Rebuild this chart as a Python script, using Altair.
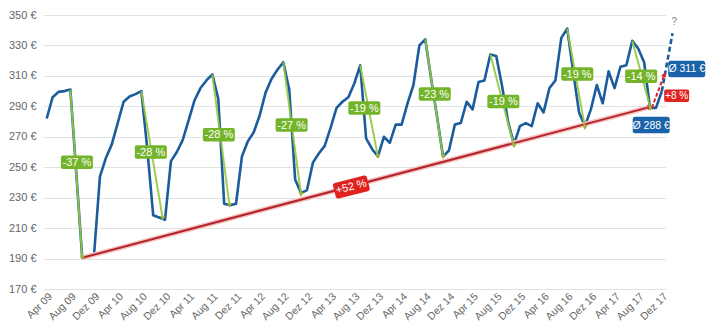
import altair as alt
import pandas as pd

# ---------------- data ----------------
price = [282, 296, 299.5, 300, 301, 246, 190.5, 191, 192.5, 244,
         256, 265, 279, 293, 296.5, 298, 300, 262, 218.5, 217,
         215.5, 254, 260, 268, 281, 294, 302, 307, 311, 295,
         226, 225, 226, 257, 267, 273, 284, 299, 308, 314,
         319, 301, 242, 233, 235, 253, 259, 264, 276, 289,
         293, 296, 305, 317, 269, 262, 257, 270, 266, 278,
         278, 292, 304, 330, 334, 308, 283, 257, 261, 278,
         279, 293, 288, 306, 307, 324, 323, 303, 280, 265,
         277, 279, 277, 292, 286, 302, 307, 335, 341, 313,
         286, 277, 288, 304, 292, 313, 302, 316, 317, 333,
         328, 319, 289, 289, 300]
months = list(range(len(price)))  # 0 = Apr 09

tick_labels = ["Apr 09", "Aug 09", "Dez 09", "Apr 10", "Aug 10", "Dez 10",
               "Apr 11", "Aug 11", "Dez 11", "Apr 12", "Aug 12", "Dez 12",
               "Apr 13", "Aug 13", "Dez 13", "Apr 14", "Aug 14", "Dez 14",
               "Apr 15", "Aug 15", "Dez 15", "Apr 16", "Aug 16", "Dez 16",
               "Apr 17", "Aug 17", "Dez 17"]
y_ticks = [170, 190, 210, 230, 250, 270, 290, 310, 330, 350]

forecast_m = [104, 105.8]
forecast_v = [300, 338]

drop_start_m = [4, 16, 28, 40, 53, 64, 75, 88, 99]
drop_start_v = [301, 300, 311, 319, 317, 334, 324, 341, 333]
drop_end_m = [6, 19.6, 30.9, 43, 56, 67, 79, 91, 102.1]
drop_end_v = [190.5, 216.5, 225, 232, 257, 257, 264, 276, 288.5]

green_label_m = [5.1, 17.6, 29.1, 41.4, 53.7, 65.6, 77.2, 89.7, 100.5]
green_label_v = [253.2, 260, 271.4, 277.7, 288.9, 298.1, 293.2, 311.2, 309.7]
green_label_text = ["-37 %", "-28 %", "-28 %", "-27 %", "-19 %", "-23 %", "-19 %", "-19 %", "-14 %"]

trend_m = [6, 101.9]
trend_v = [190.5, 289.5]
trend_label = ["+52 %"]
trend_label_m = [51.5]
trend_label_v = [237]

next_m = [102.3, 104.4]
next_v = [289, 310.5]
next_label = ["+8 %"]
next_label_m = [106.5]
next_label_v = [297]

avg_label = ["Ø 311 €", "Ø 288 €"]
avg_label_m = [108.2, 102.2]
avg_label_v = [314.6, 277.7]

question_m = [106.1]
question_v = [345.6]

# ---------------- styles ----------------
BLUE = "#1b5c9c"
BLUE_BOX = "#1b63a8"
GREEN_BOX = "#74b42a"
GREEN_LINE = "#95c83f"
RED_BOX = "#e1231f"
RED_LINE = "#b3242a"
FONT = "Liberation Sans"


def rrect(w, h, r):
    hh = h / w
    rr = 2 * r / w
    return (f"M{-1+rr},{-hh} L{1-rr},{-hh} Q1,{-hh} 1,{-hh+rr} L1,{hh-rr} "
            f"Q1,{hh} {1-rr},{hh} L{-1+rr},{hh} Q-1,{hh} -1,{hh-rr} "
            f"L-1,{-hh+rr} Q-1,{-hh} {-1+rr},{-hh} Z")


x_scale = alt.Scale(domain=[-0.63, 104.7], nice=False, zero=False)
y_scale = alt.Scale(domain=[170, 350], nice=False, zero=False)
label_array = "[" + ",".join(f"'{l}'" for l in tick_labels) + "]"

x_axis = alt.Axis(values=list(range(0, 105, 4)), tickCount=60,
                  labelExpr=label_array + "[round(datum.value/4)]",
                  labelAngle=-45, grid=False, ticks=False, domain=False,
                  title=None, labelPadding=2, labelFont=FONT, labelFontSize=10.5,
                  labelColor="#666666", labelOverlap=False, labelFlush=False,
                  labelBound=False)
y_axis = alt.Axis(values=y_ticks, tickCount=30, labelExpr="datum.value + ' €'", grid=True,
                  gridColor="#e2e2e2", ticks=False, domain=False, title=None,
                  labelPadding=7, labelFont=FONT, labelFontSize=11,
                  labelColor="#666666", labelOverlap=False, labelFlush=False)


def X(field="m:Q", ax=alt.Undefined):
    return alt.X(field, scale=x_scale, axis=ax)


def Y(field="v:Q", ax=alt.Undefined):
    return alt.Y(field, scale=y_scale, axis=ax)


df_price = pd.DataFrame({"m": months, "v": price})
df_fc = pd.DataFrame({"m": forecast_m, "v": forecast_v})
df_drop = pd.DataFrame({"m": drop_start_m, "v": drop_start_v,
                        "m2": drop_end_m, "v2": drop_end_v})
df_drop_end = pd.DataFrame({"m": drop_end_m, "v": drop_end_v})
df_glab = pd.DataFrame({"m": green_label_m, "v": green_label_v, "t": green_label_text})
df_trend = pd.DataFrame({"m": [trend_m[0]], "v": [trend_v[0]],
                         "m2": [trend_m[1]], "v2": [trend_v[1]]})
df_trend_end = pd.DataFrame({"m": [trend_m[1]], "v": [trend_v[1]]})
df_tlab = pd.DataFrame({"m": trend_label_m, "v": trend_label_v, "t": trend_label})
df_next = pd.DataFrame({"m": [next_m[0]], "v": [next_v[0]],
                        "m2": [next_m[1]], "v2": [next_v[1]]})
df_next_end = pd.DataFrame({"m": [next_m[1]], "v": [next_v[1]]})
df_nlab = pd.DataFrame({"m": next_label_m, "v": next_label_v, "t": next_label})
df_alab = pd.DataFrame({"m": avg_label_m, "v": avg_label_v, "t": avg_label})
df_q = pd.DataFrame({"m": question_m, "v": question_v, "t": ["?"]})

base_line = alt.Chart(df_price).mark_line(color=BLUE, strokeWidth=2.6,
                                          strokeJoin="round").encode(
    x=X(ax=x_axis), y=Y(ax=y_axis))

forecast = alt.Chart(df_fc).mark_line(color=BLUE, strokeWidth=2.6,
                                      strokeDash=[5, 3]).encode(x=X(), y=Y())

trend_halo = alt.Chart(df_trend).mark_rule(color="#f6c3c3", strokeWidth=5).encode(
    x=X(), y=Y(), x2="m2:Q", y2="v2:Q")
trend = alt.Chart(df_trend).mark_rule(color=RED_LINE, strokeWidth=2).encode(
    x=X(), y=Y(), x2="m2:Q", y2="v2:Q")
trend_head = alt.Chart(df_trend_end).mark_point(
    shape="triangle", filled=True, color=RED_LINE, size=30, angle=75, opacity=1).encode(
    x=X(), y=Y())

drops = alt.Chart(df_drop).mark_rule(color=GREEN_LINE, strokeWidth=2, opacity=0.9).encode(
    x=X(), y=Y(), x2="m2:Q", y2="v2:Q")
drop_heads = alt.Chart(df_drop_end).mark_point(
    shape="triangle-down", filled=True, color="#9bb83a", size=28, opacity=1).encode(
    x=X(), y=Y())

next_rule = alt.Chart(df_next).mark_rule(color="#d9262a", strokeWidth=2,
                                         strokeDash=[4, 2]).encode(
    x=X(), y=Y(), x2="m2:Q", y2="v2:Q")
next_head = alt.Chart(df_next_end).mark_point(
    shape="triangle", filled=True, color="#d9262a", size=30, angle=24, opacity=1).encode(
    x=X(), y=Y())

green_boxes = alt.Chart(df_glab).mark_point(
    shape=rrect(32, 13.5, 2), size=32 * 32, filled=True, color=GREEN_BOX, opacity=1).encode(
    x=X(), y=Y())
green_text = alt.Chart(df_glab).mark_text(
    font=FONT, fontSize=11, color="white", align="center", baseline="middle", dy=0.5).encode(
    x=X(), y=Y(), text="t:N")

trend_box = alt.Chart(df_tlab).mark_point(
    shape=rrect(35, 16, 2.5), size=35 * 35, filled=True, color=RED_BOX, opacity=1,
    angle=346).encode(x=X(), y=Y())
trend_text = alt.Chart(df_tlab).mark_text(
    font=FONT, fontSize=11, color="white", align="center", baseline="middle",
    angle=346).encode(x=X(), y=Y(), text="t:N")

next_box = alt.Chart(df_nlab).mark_point(
    shape=rrect(25, 12.5, 2), size=25 * 25, filled=True, color=RED_BOX, opacity=1).encode(
    x=X(), y=Y())
next_text = alt.Chart(df_nlab).mark_text(
    font=FONT, fontSize=10, color="white", align="center", baseline="middle", dy=0.5).encode(
    x=X(), y=Y(), text="t:N")

avg_box = alt.Chart(df_alab).mark_point(
    shape=rrect(37, 16.5, 2.5), size=37 * 37, filled=True, color=BLUE_BOX, opacity=1).encode(
    x=X(), y=Y())
avg_text = alt.Chart(df_alab).mark_text(
    font=FONT, fontSize=10.5, color="white", align="center", baseline="middle", dy=0.5).encode(
    x=X(), y=Y(), text="t:N")

q_text = alt.Chart(df_q).mark_text(
    font=FONT, fontSize=10, color="#888888", align="center", baseline="middle").encode(
    x=X(), y=Y(), text="t:N")

chart = alt.layer(
    base_line, trend_halo, trend, trend_head, forecast, drops, drop_heads,
    next_rule, next_head, green_boxes, green_text, trend_box, trend_text,
    next_box, next_text, avg_box, avg_text, q_text
).properties(
    width=623, height=274,
    autosize=alt.AutoSizeParams(type="none"),
    padding={"left": 43, "top": 15, "right": 44, "bottom": 32},
    background="white"
).configure_view(stroke=None)

chart.save("out.html", embed_options={"renderer": "svg", "actions": False})
